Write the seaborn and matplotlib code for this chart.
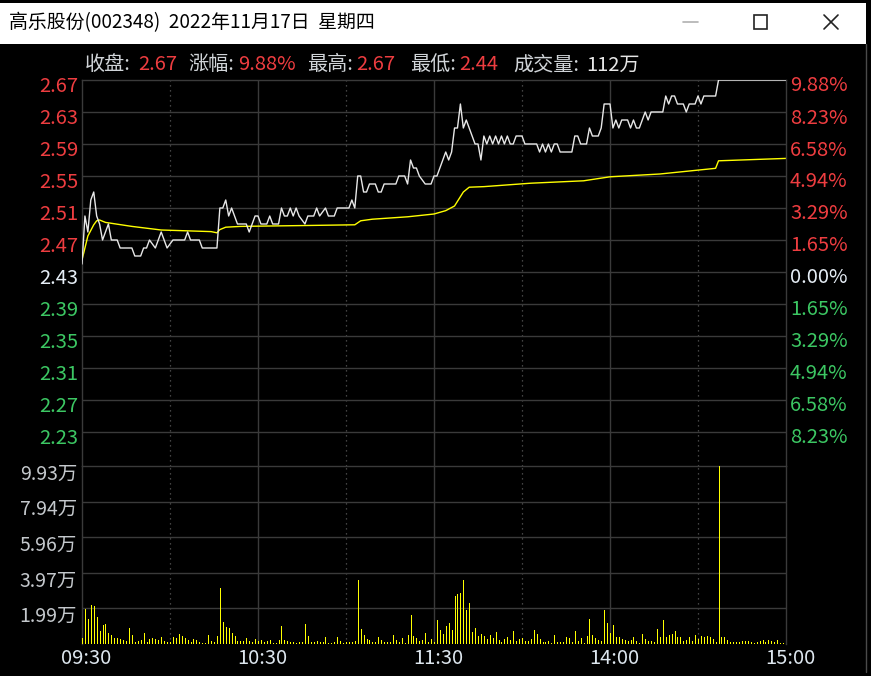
import numpy as np
import pandas as pd
import seaborn as sns
import matplotlib.pyplot as plt
import matplotlib.transforms as mtransforms
from matplotlib.lines import Line2D
from matplotlib.patches import Rectangle

# 分钟序号: 0 = 09:30, 120 = 11:30/13:00, 240 = 15:00
price_min = [0, 1, 2, 3, 4, 5, 6, 7, 8, 9, 10, 12, 13, 17, 18, 20, 21, 22, 23, 25, 27, 29, 31, 35, 36, 37, 40, 41, 46,
             47, 48, 49, 50, 51, 52, 53, 56, 57, 58, 59, 60, 61, 63, 64, 65, 67, 68, 69, 70, 71, 72, 73, 74, 76, 77,
             79, 80, 81, 83, 84, 86, 87, 91, 92, 93,
             94, 95, 96, 97, 98, 100, 101, 102, 103, 107, 108, 110, 111, 112, 113, 114, 115, 117, 119, 120, 121, 122,
             123, 124, 125, 126, 127, 128, 129, 130, 131, 132, 133, 134, 135, 136, 137, 138, 139, 140, 141, 142, 143,
             144, 145, 146, 147, 148, 150, 151, 155, 156, 157, 158, 159, 160, 161, 162, 163, 167, 168, 169, 170, 172,
             173, 174, 176, 177, 178, 180,
             181, 182, 183, 184, 186, 187, 188, 189, 190, 191, 192, 193, 194, 198, 199, 200, 201, 202, 203, 205, 206,
             207, 209, 210, 211, 212, 216, 217, 240]
price_val = [2.44, 2.50, 2.48, 2.52, 2.53, 2.50, 2.49, 2.47, 2.48, 2.49, 2.47, 2.47, 2.46, 2.46, 2.45, 2.45, 2.46, 2.46,
             2.47, 2.46, 2.48, 2.46, 2.47, 2.47, 2.48, 2.47, 2.47, 2.46, 2.46,
             2.51, 2.51, 2.52, 2.50, 2.51, 2.50, 2.49, 2.49, 2.48, 2.49, 2.50, 2.50, 2.49, 2.49, 2.50, 2.49, 2.49,
             2.51, 2.50, 2.50, 2.51, 2.50, 2.51, 2.50, 2.49, 2.50, 2.50, 2.51, 2.50, 2.51, 2.50, 2.50, 2.51, 2.51,
             2.52, 2.51,
             2.55, 2.55, 2.53, 2.53, 2.54, 2.54, 2.53, 2.53, 2.54, 2.54, 2.55, 2.55, 2.54, 2.57, 2.56, 2.56, 2.55,
             2.54, 2.54, 2.55, 2.55, 2.56, 2.57, 2.58, 2.57, 2.58, 2.61, 2.61, 2.64, 2.61, 2.62, 2.61, 2.60, 2.59,
             2.59, 2.57, 2.60, 2.59, 2.60, 2.59, 2.60, 2.59, 2.60, 2.59, 2.60, 2.59, 2.59, 2.60, 2.60, 2.59, 2.59,
             2.58, 2.59, 2.58, 2.59, 2.58, 2.59, 2.59, 2.58, 2.58, 2.60, 2.60, 2.59, 2.59, 2.61, 2.60, 2.60, 2.61,
             2.64, 2.64,
             2.61, 2.62, 2.61, 2.62, 2.62, 2.61, 2.62, 2.61, 2.61, 2.62, 2.63, 2.62, 2.63, 2.63, 2.65, 2.64, 2.65,
             2.65, 2.64, 2.64, 2.63, 2.64, 2.64, 2.65, 2.64, 2.65, 2.65, 2.67, 2.67]

avg_min = [0, 1, 2, 4, 5, 6, 8, 17, 27, 44, 46, 47, 49, 54, 74, 93, 95, 99, 111, 120, 124, 127, 130, 132, 137, 153,
           171, 180, 197, 216, 217, 240]
avg_val = [2.445, 2.46, 2.475, 2.489, 2.494, 2.495, 2.492, 2.487, 2.4825, 2.4805, 2.479, 2.483, 2.486, 2.487, 2.488,
           2.489, 2.494, 2.496, 2.499, 2.5025, 2.5067, 2.5125, 2.53, 2.536, 2.5367, 2.541, 2.544, 2.549, 2.5525,
           2.5596, 2.569, 2.572]

# 每分钟成交量（万）
volume = [0.32, 1.93, 1.38, 2.17, 2.12, 1.49, 0.73, 1.06, 1.12, 0.59,
          0.50, 0.32, 0.32, 0.26, 0.22, 0.17, 0.87, 0.50, 0.10, 0.19,
          0.22, 0.60, 0.13, 0.26, 0.32, 0.28, 0.22, 0.41, 0.17, 0.10,
          0.13, 0.41, 0.32, 0.57, 0.45, 0.32, 0.22, 0.10, 0.28, 0.22,
          0.10, 0.08, 0.08, 0.50, 0.19, 0.13, 0.45, 3.14, 1.21, 0.97,
          0.87, 0.60, 0.45, 0.17, 0.17, 0.17, 0.32, 0.17, 0.13, 0.26,
          0.19, 0.22, 0.13, 0.19, 0.22, 0.08, 0.08, 0.22, 1.00, 0.22,
          0.17, 0.13, 0.13, 0.08, 0.10, 0.09, 1.12, 0.45, 0.09, 0.11,
          0.17, 0.13, 0.11, 0.37, 0.07, 0.07, 0.11, 0.37, 0.17, 0.07,
          0.09, 0.09, 0.11, 0.17, 3.57, 0.84, 0.50, 0.28, 0.22, 0.09,
          0.13, 0.37, 0.22, 0.11, 0.11, 0.11, 0.50, 0.22, 0.11, 0.32,
          0.04, 0.50, 1.62, 0.45, 0.32, 0.17, 0.22, 0.63, 0.11, 0.28,
          0.09, 1.34, 0.78, 0.56, 1.00, 1.15, 0.78, 2.68, 2.79, 2.83,
          3.57, 1.90, 2.27, 0.69, 0.87, 0.45, 0.56, 0.45, 0.28, 0.50,
          0.32, 0.65, 0.22, 0.09, 0.28, 0.37, 0.22, 0.72, 0.19, 0.28,
          0.32, 0.17, 0.17, 0.28, 0.78, 0.56, 0.28, 0.11, 0.11, 0.17,
          0.07, 0.50, 0.13, 0.09, 0.13, 0.37, 0.32, 0.11, 0.72, 0.17,
          0.32, 0.07, 0.45, 1.39, 0.50, 0.32, 0.22, 0.17, 1.90, 1.19,
          0.63, 1.06, 0.41, 0.37, 0.28, 0.22, 0.19, 0.22, 0.37, 0.17,
          0.07, 0.56, 0.28, 0.17, 0.17, 0.09, 0.84, 0.41, 1.34, 0.41,
          0.50, 0.56, 0.72, 0.41, 0.37, 0.17, 0.22, 0.37, 0.17, 0.50,
          0.28, 0.45, 0.41, 0.45, 0.37, 0.28, 0.09, 9.93, 0.37, 0.37,
          0.22, 0.13, 0.09, 0.09, 0.13, 0.19, 0.17, 0.17, 0.09, 0.04,
          0.09, 0.17, 0.22, 0.09, 0.22, 0.17, 0.13, 0.22, 0.07, 0.07, 0.17]
vol_min = list(range(len(volume)))

prev_close = 2.43
price_ticks = [2.67, 2.63, 2.59, 2.55, 2.51, 2.47, 2.43, 2.39, 2.35, 2.31, 2.27, 2.23]
vol_ticks = [1.99, 3.97, 5.96, 7.94, 9.93]
time_ticks = [0, 60, 120, 180, 240]
time_labels = ['09:30', '10:30', '11:30', '14:00', '15:00']

RED = '#ee3d40'
GREEN = '#3cc763'
GRID = '#3a3a3a'

sns.set_theme(style='dark')
plt.rcParams['font.family'] = ['Noto Sans CJK SC', 'DejaVu Sans']

W, H = 871, 676
fig = plt.figure(figsize=(W / 100, H / 100), dpi=100, facecolor='black')

def fx(x):
    return x / W

def fy(y):
    return 1 - y / H

ax = fig.add_axes([fx(82), fy(466), 704 / W, 386 / H])
axv = fig.add_axes([fx(82), fy(644), 704 / W, 178 / H])

for a in (ax, axv):
    a.set_facecolor('black')
    a.set_xlim(0, 240)
    a.set_xticks([])
    a.set_yticks([])
    a.grid(False)
    for s in a.spines.values():
        s.set_color(GRID)
        s.set_linewidth(1)
    a.spines['bottom'].set_visible(False)
    # 竖线: 整点实线, 半点虚线
    for m in (60, 120, 180):
        a.axvline(m, color=GRID, lw=1, zorder=0)
    for m in (30, 90, 150, 210):
        a.axvline(m, color='#5a5a5a', lw=0.9, ls=(0, (1, 3)), zorder=0)

ax.set_ylim(2.67 - 386 / 800, 2.67)
axv.set_ylim(0, 9.93)

for p in price_ticks[1:]:
    ax.axhline(p, color=GRID, lw=1, zorder=0)
for v in vol_ticks[:-1]:
    axv.axhline(v, color=GRID, lw=1, zorder=0)

# 价格线与均价线
sns.lineplot(x=price_min, y=price_val, color='#e8e8e8', lw=1.0, estimator=None, sort=False, ax=ax, zorder=3)
sns.lineplot(x=avg_min, y=avg_val, color='#ffff00', lw=1.0, estimator=None, sort=False, ax=ax, zorder=2)
ax.set_xlabel('')
ax.set_ylabel('')

# 成交量
axv.vlines(vol_min, 0, volume, color='#ffff00', lw=0.72, antialiased=False, zorder=3)
axv.set_xlim(0, 240)
axv.set_ylim(0, 9.93)

# 左侧价格与右侧涨跌幅刻度
lt = mtransforms.offset_copy(ax.get_yaxis_transform(), fig=fig, x=-4, y=-7, units='dots')
rt = mtransforms.offset_copy(ax.get_yaxis_transform(), fig=fig, x=4, y=-6, units='dots')
for p in price_ticks:
    if p > prev_close + 1e-9:
        c = RED
    elif p < prev_close - 1e-9:
        c = GREEN
    else:
        c = '#e6eef6'
    pct = abs(p - prev_close) / prev_close * 100
    ax.text(0, p, f'{p:.2f}', transform=lt, ha='right', va='center', color=c, fontsize=14.5)
    ax.text(1, p, f'{pct:.2f}%', transform=rt, ha='left', va='center', color=c, fontsize=14.5)

vt = mtransforms.offset_copy(axv.get_yaxis_transform(), fig=fig, x=-5, y=-8, units='dots')
for v in vol_ticks:
    axv.text(0, v, f'{v:.2f}万', transform=vt, ha='right', va='center', color='#c4c8cc', fontsize=14)

tt = mtransforms.offset_copy(axv.get_xaxis_transform(), fig=fig, x=4, y=-14, units='dots')
for m, lab in zip(time_ticks, time_labels):
    axv.text(m, 0, lab, transform=tt, ha='center', va='center', color='#dde6ee', fontsize=14.5)

# 窗口标题栏
fig.patches.append(Rectangle((0, fy(44)), fx(866), 41 / H, transform=fig.transFigure,
                             facecolor='white', edgecolor='none', zorder=0))
fig.text(fx(9), fy(23), '高乐股份(002348)  2022年11月17日  星期四', ha='left', va='center',
         color='black', fontsize=13.6)
fig.add_artist(Line2D([fx(683), fx(698)], [fy(22), fy(22)], color='#b0b0b0', lw=1.2))
fig.patches.append(Rectangle((fx(754), fy(29)), 13 / W, 14 / H, transform=fig.transFigure,
                             facecolor='none', edgecolor='#222222', lw=1.2))
fig.add_artist(Line2D([fx(824), fx(838)], [fy(15), fy(29)], color='#222222', lw=1.2))
fig.add_artist(Line2D([fx(824), fx(838)], [fy(29), fy(15)], color='#222222', lw=1.2))
fig.add_artist(Line2D([fx(866), fx(866)], [fy(44), fy(672)], color='#4a4a4a', lw=1))

# 行情信息
info = [('收盘:', 85, '#d0d4d8'), ('2.67', 138, RED), ('涨幅:', 188, '#d0d4d8'), ('9.88%', 238, RED),
        ('最高:', 307, '#d0d4d8'), ('2.67', 356, RED), ('最低:', 410, '#d0d4d8'), ('2.44', 459, RED),
        ('成交量:', 513, '#d0d4d8'), ('112万', 586, '#e6e6e6')]
for txt, x, c in info:
    fig.text(fx(x), fy(65), txt, ha='left', va='center', color=c, fontsize=14.5)

fig.savefig('out.png', dpi=100, facecolor='black')
